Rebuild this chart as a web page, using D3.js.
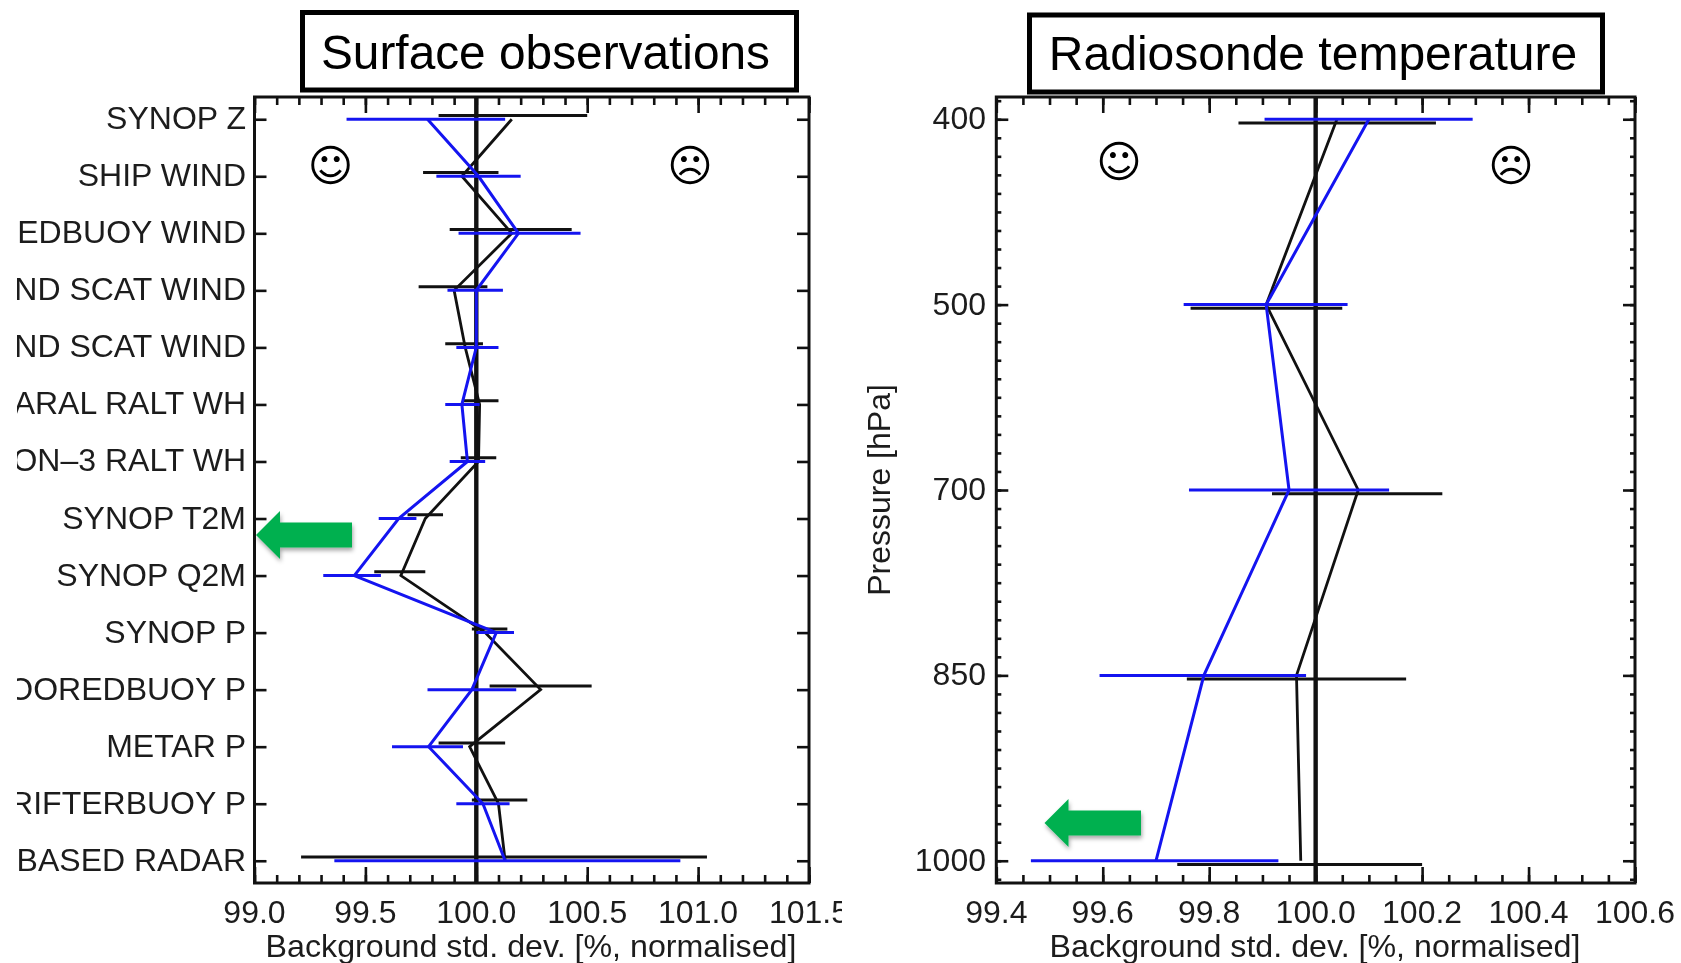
<!DOCTYPE html>
<html>
<head>
<meta charset="utf-8">
<script src="https://cdn.jsdelivr.net/npm/d3@7"></script>
<style>
    body { margin: 0; background: #fff; }
    svg { display: block; filter: blur(0.45px); }
    text { font-family: "Liberation Sans", sans-serif; fill: #1c1c1c; }
</style>
</head>
<body>
<div id="chart"></div>
<script>
// Surface observations, top to bottom (the labels are cut off at the left in the original)
var surfaceLabels = ["SYNOP Z", "SHIP WIND", "EDBUOY WIND", "ND SCAT WIND", "ND SCAT WIND", "ARAL RALT WH", "ON\u20133 RALT WH",
    "SYNOP T2M", "SYNOP Q2M", "SYNOP P", "OOREDBUOY P", "METAR P", "RIFTERBUOY P", "BASED RADAR"];
var surfaceBlack = [100.16, 99.935, 100.16, 99.90, 99.95, 100.015, 100.01, 99.77, 99.66, 100.04, 100.29, 99.97, 100.10, 100.13];
var surfaceBlackLo = [99.83, 99.76, 99.88, 99.74, 99.86, 99.94, 99.93, 99.69, 99.54, 99.98, 100.06, 99.83, 99.98, 99.21];
var surfaceBlackHi = [100.50, 100.10, 100.43, 100.05, 100.03, 100.10, 100.09, 99.85, 99.77, 100.14, 100.52, 100.13, 100.23, 101.04];
var surfaceBlue = [99.78, 100.01, 100.19, 100.0, 100.0, 99.935, 99.96, 99.65, 99.45, 100.09, 99.98, 99.785, 100.03, 100.13];
var surfaceBlueLo = [99.415, 99.82, 99.92, 99.87, 99.91, 99.86, 99.88, 99.56, 99.31, 100.0, 99.78, 99.62, 99.91, 99.36];
var surfaceBlueHi = [100.13, 100.20, 100.47, 100.12, 100.10, 100.015, 100.04, 99.73, 99.57, 100.17, 100.18, 99.94, 100.15, 100.92];

// Radiosonde temperature
var pressureLabels = ["400", "500", "700", "850", "1000"];
var tempBlack = [100.04, 99.907, 100.08, 99.964, 99.972];
var tempBlackLo = [99.855, 99.765, 99.918, 99.758, 99.74];
var tempBlackHi = [100.226, 100.05, 100.238, 100.17, 100.2];
var tempBlue = [100.1, 99.907, 99.95, 99.79, 99.70];
var tempBlueLo = [99.904, 99.752, 99.762, 99.594, 99.465];
var tempBlueHi = [100.295, 100.06, 100.138, 99.982, 99.93];

var xTicksSurface = [99.0, 99.5, 100.0, 100.5, 101.0, 101.5];
var xTicksTemp = [99.4, 99.6, 99.8, 100.0, 100.2, 100.4, 100.6];

var top_ = 97, bottom = 883;

var svg = d3.select("#chart").append("svg").attr("width", 1681).attr("height", 963);

svg.append("defs").append("filter").attr("id", "shadow")
    .attr("x", "-20%").attr("y", "-20%").attr("width", "150%").attr("height", "150%")
    .append("feDropShadow")
    .attr("dx", 1).attr("dy", 3).attr("stdDeviation", 2)
    .attr("flood-color", "#000").attr("flood-opacity", 0.35);

svg.select("defs").append("clipPath").attr("id", "surfaceClip")
    .append("rect").attr("x", 17).attr("y", 0).attr("width", 825).attr("height", 963);

function series(g, x, y, mid, lo, hi, color, offset, lineWidth) {
    var line = d3.line().x(function(d) { return x(d); }).y(function(d, i) { return y(i); });
    g.append("path").datum(mid)
        .attr("d", line)
        .attr("fill", "none").attr("stroke", color).attr("stroke-width", lineWidth)
        .attr("stroke-linejoin", "miter");
    g.selectAll(null).data(mid).enter().append("line")
        .attr("x1", function(d, i) { return x(lo[i]); })
        .attr("x2", function(d, i) { return x(hi[i]); })
        .attr("y1", function(d, i) { return y(i) + offset; })
        .attr("y2", function(d, i) { return y(i) + offset; })
        .attr("stroke", color).attr("stroke-width", 3);
}

function styleAxis(a, width) {
    a.select(".domain").remove();
    a.selectAll("line").attr("stroke", "#111").attr("stroke-width", width);
}

function drawPanel(p) {
    var x = d3.scaleLinear().domain(p.xDomain).range([p.left, p.right]);
    var y = d3.scaleLinear().domain(p.yDomain).range([top_, bottom]);
    var g = svg.append("g");
    var labels = g.append("g");
    if (p.clip) labels.attr("clip-path", "url(#" + p.clip + ")");

    // minor and major ticks on the four sides
    [[p.xMinor, 8], [p.xTicks, 16]].forEach(function(t) {
        styleAxis(g.append("g").attr("transform", "translate(0," + bottom + ")")
            .call(d3.axisBottom(x).tickValues(t[0]).tickSize(-t[1]).tickFormat("")), 2.6);
        styleAxis(g.append("g").attr("transform", "translate(0," + top_ + ")")
            .call(d3.axisTop(x).tickValues(t[0]).tickSize(-t[1]).tickFormat("")), 2.6);
    });
    [[p.yMinor, 5], [d3.range(p.yLabels.length), 12]].forEach(function(t) {
        styleAxis(g.append("g").attr("transform", "translate(" + p.left + ",0)")
            .call(d3.axisLeft(y).tickValues(t[0]).tickSize(-t[1]).tickFormat("")), 2.6);
        styleAxis(g.append("g").attr("transform", "translate(" + p.right + ",0)")
            .call(d3.axisRight(y).tickValues(t[0]).tickSize(-t[1]).tickFormat("")), 2.6);
    });

    // tick labels
    labels.selectAll(null).data(p.xTicks).enter().append("text")
        .attr("x", function(d) { return x(d); }).attr("y", 923)
        .attr("text-anchor", "middle").attr("font-size", 32)
        .text(function(d) { return d.toFixed(1); });
    labels.selectAll(null).data(p.yLabels).enter().append("text")
        .attr("x", p.labelEnd).attr("y", function(d, i) { return y(i) + 10; })
        .attr("text-anchor", "end").attr("font-size", 32)
        .text(function(d) { return d; });

    g.append("text")
        .attr("x", p.titleX).attr("y", 957)
        .attr("text-anchor", "middle").attr("font-size", 32.2)
        .text("Background std. dev. [%, normalised]");

    // reference line at 100 %
    g.append("line")
        .attr("x1", x(100)).attr("x2", x(100)).attr("y1", top_).attr("y2", bottom)
        .attr("stroke", "#111").attr("stroke-width", 4.4);

    series(g, x, y, p.black, p.blackLo, p.blackHi, "#111", p.blackOffset, 2.8);
    series(g, x, y, p.blue, p.blueLo, p.blueHi, "#1414f0", 0, 3);

    g.append("rect")
        .attr("x", p.left).attr("y", top_)
        .attr("width", p.right - p.left).attr("height", bottom - top_)
        .attr("fill", "none").attr("stroke", "#111").attr("stroke-width", 3);

    // title box
    g.append("rect")
        .attr("x", p.box[0]).attr("y", p.box[1]).attr("width", p.box[2]).attr("height", p.box[3])
        .attr("fill", "#fff").attr("stroke", "#000").attr("stroke-width", 5);
    g.append("text")
        .attr("x", p.titleCx).attr("y", p.titleY)
        .attr("text-anchor", "middle").attr("font-size", p.titleSize)
        .style("fill", "#000")
        .text(p.title);

    // faces
    p.faces.forEach(function(f) {
        g.append("text")
            .attr("x", f[0]).attr("y", f[1])
            .attr("text-anchor", "middle").attr("dominant-baseline", "central")
            .attr("font-size", 44)
            .style("font-family", "'DejaVu Sans'").style("fill", "#000")
            .text(f[2]);
    });

    // green arrow
    var a = p.arrow;
    g.append("path")
        .attr("d", d3.line()([[a.tip, a.y], [a.tip + 24, a.y - 24], [a.tip + 24, a.y - 12.5], [a.end, a.y - 12.5],
            [a.end, a.y + 12.5], [a.tip + 24, a.y + 12.5], [a.tip + 24, a.y + 24]]) + "Z")
        .attr("fill", "#00b050")
        .attr("filter", "url(#shadow)");
}

drawPanel({
    left: 254.5, right: 809,
    xDomain: [99, 101.5], yDomain: [-0.39, 13.39],
    xTicks: xTicksSurface, xMinor: d3.range(99, 101.55, 0.1),
    yLabels: surfaceLabels, yMinor: [],
    labelEnd: 246, titleX: 531, clip: "surfaceClip",
    black: surfaceBlack, blackLo: surfaceBlackLo, blackHi: surfaceBlackHi, blackOffset: -3.7,
    blue: surfaceBlue, blueLo: surfaceBlueLo, blueHi: surfaceBlueHi,
    box: [302.5, 12.5, 494, 77.5], title: "Surface observations", titleCx: 545.5, titleY: 69, titleSize: 47.8,
    faces: [[330.5, 165, "\u263A"], [690, 165.5, "\u2639"]],
    arrow: { tip: 256, y: 535, end: 352 }
});

drawPanel({
    left: 996.3, right: 1635,
    xDomain: [99.4, 100.6], yDomain: [-0.12, 4.12],
    xTicks: xTicksTemp, xMinor: d3.range(99.4, 100.62, 0.05),
    yLabels: pressureLabels, yMinor: d3.range(-0.1, 4.15, 0.1),
    labelEnd: 986, titleX: 1315,
    black: tempBlack, blackLo: tempBlackLo, blackHi: tempBlackHi, blackOffset: 3.7,
    blue: tempBlue, blueLo: tempBlueLo, blueHi: tempBlueHi,
    box: [1029.5, 15, 573, 77], title: "Radiosonde temperature", titleCx: 1313, titleY: 70, titleSize: 48,
    faces: [[1119, 161, "\u263A"], [1511, 165, "\u2639"]],
    arrow: { tip: 1044.5, y: 823, end: 1141 }
});

svg.append("text")
    .attr("transform", "translate(889.5,490) rotate(-90)")
    .attr("text-anchor", "middle").attr("font-size", 32)
    .text("Pressure [hPa]");
</script>
</body>
</html>
